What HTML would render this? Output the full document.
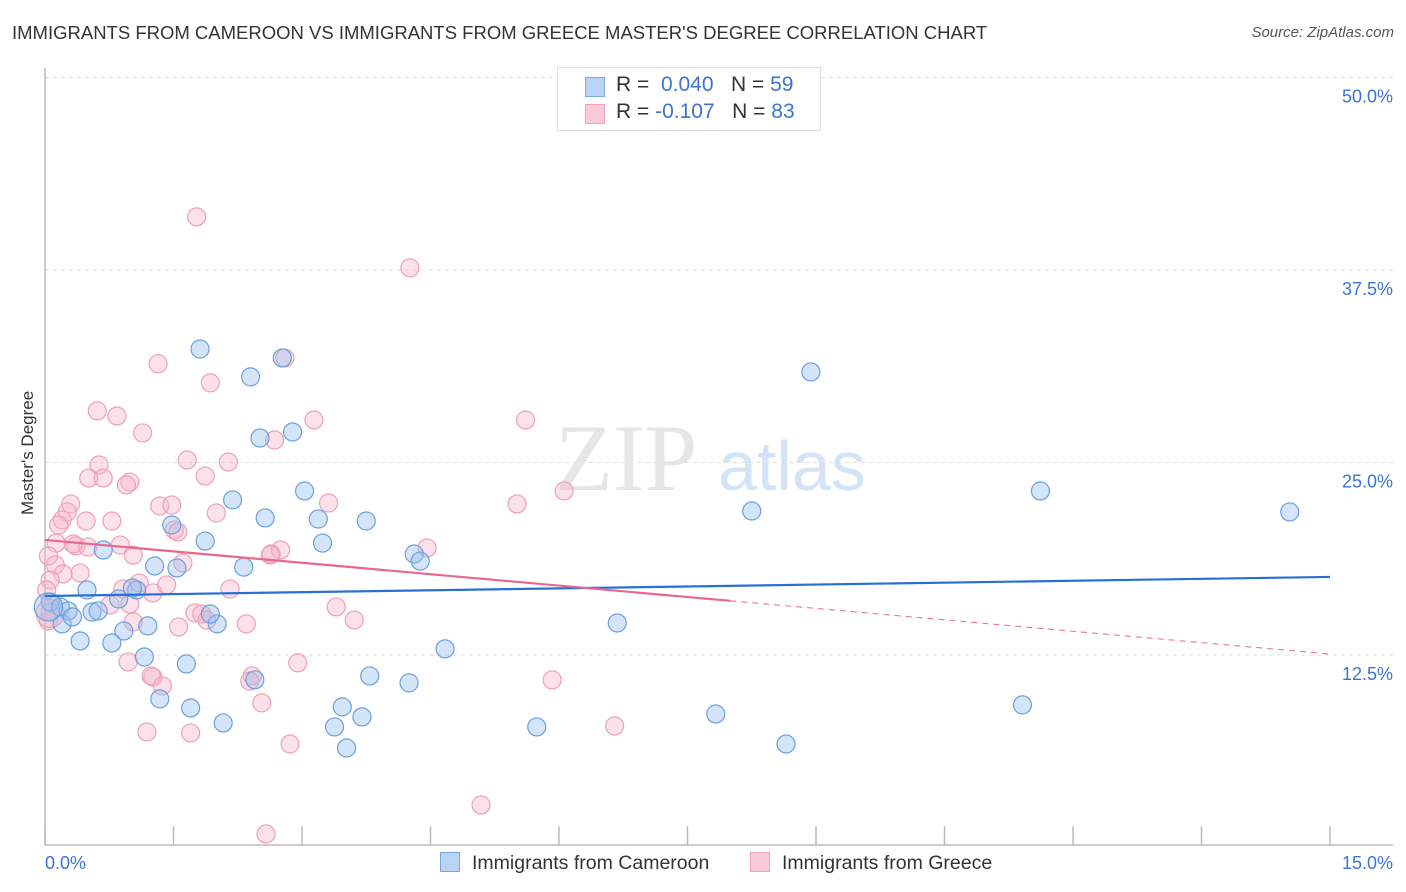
<!DOCTYPE html>
<html><head><meta charset="utf-8">
<style>
body{margin:0;background:#fff;font-family:"Liberation Sans",sans-serif;}
#wrap{position:relative;width:1406px;height:892px;overflow:hidden;}
.t{position:absolute;white-space:nowrap;}
</style></head>
<body>
<div id="wrap">
<div class="t" style="left:12px;top:22px;font-size:18.5px;color:#333;">IMMIGRANTS FROM CAMEROON VS IMMIGRANTS FROM GREECE MASTER'S DEGREE CORRELATION CHART</div>
<div class="t" style="right:12px;top:24px;font-size:15px;color:#555;font-style:italic;">Source: ZipAtlas.com</div>
<svg id="svg" width="1406" height="892" style="position:absolute;left:0;top:0"></svg>
</div>
<script>
const yTicks=[12.5,25,37.5,50];
const yTickLabels=["12.5%","25.0%","37.5%","50.0%"];
const xTicks=[0,1.5,3,4.5,6,7.5,9,10.5,12,13.5,15];
const blueX=[1.81,2.40,2.77,8.94,2.51,2.89,2.19,3.03,2.57,3.19,3.75,1.48,1.87,3.24,0.68,4.31,4.38,11.62,8.25,14.53,1.28,1.54,2.32,0.49,1.07,0.86,1.02,0.06,0.18,0.27,0.55,0.62,0.20,0.32,1.20,0.92,2.01,1.93,6.68,0.41,0.78,1.16,1.65,4.67,2.45,3.79,4.25,1.34,1.70,2.08,3.47,3.70,3.38,3.52,5.74,7.83,8.65,11.41,0.04];
const blueY=[32.37,30.56,31.79,30.88,26.59,26.98,22.57,23.15,21.40,21.33,21.20,20.94,19.90,19.77,19.32,19.06,18.60,23.15,21.85,21.79,18.28,18.15,18.21,16.72,16.72,16.14,16.85,15.94,15.62,15.36,15.29,15.36,14.52,14.97,14.39,14.06,14.52,15.16,14.58,13.41,13.28,12.37,11.92,12.90,10.89,11.14,10.69,9.65,9.06,8.09,9.13,8.48,7.83,6.46,7.83,8.67,6.72,9.26,15.62];
const pinkX=[1.77,4.26,1.32,1.93,2.80,0.61,0.84,1.14,3.14,5.61,1.66,2.14,0.63,0.51,0.99,0.68,0.95,1.87,0.30,0.26,0.20,0.16,0.48,0.78,1.34,1.48,2.00,3.31,5.51,6.06,0.13,0.04,0.36,0.33,0.50,0.88,1.51,1.55,2.68,1.03,0.12,0.41,0.21,0.06,0.02,1.61,2.64,2.75,4.46,0.91,1.10,1.26,1.42,2.16,0.76,0.99,1.03,1.75,1.83,1.89,2.35,3.40,3.61,1.56,0.97,1.26,1.24,1.37,2.42,2.39,2.53,2.95,5.92,1.19,1.70,2.86,6.65,5.09,2.58,0.04,0.06,2.63,0.06];
const pinkY=[40.95,37.64,31.41,30.17,31.79,28.35,28.02,26.92,27.76,27.76,25.16,25.03,24.84,23.99,23.73,23.99,23.54,24.12,22.31,21.79,21.27,20.94,21.20,21.20,22.18,22.24,21.72,22.37,22.31,23.15,19.77,18.93,19.58,19.71,19.51,19.64,20.62,20.49,26.46,18.99,18.35,17.83,17.76,17.37,16.72,18.47,19.06,19.32,19.45,16.79,17.18,16.53,17.05,16.79,15.75,15.81,14.65,15.23,15.16,14.77,14.52,15.62,14.77,14.32,12.05,11.07,11.14,10.49,11.14,10.81,9.39,11.99,10.88,7.50,7.44,6.72,7.89,2.76,0.88,14.71,15.29,19.0,15.2];
const blueTrend=[16.33,17.57];
const pinkTrend=[19.97,12.56];
const pinkSolidEnd=8.0;

const NS="http://www.w3.org/2000/svg";
const svg=document.getElementById('svg');
const X0=45,X1=1330,Y0=847.5,PY=192.5/12.5;
const sx=v=>X0+v/15*(X1-X0);
const sy=v=>Y0-v*PY;
function mk(tag,attrs,parent){const e=document.createElementNS(NS,tag);for(const k in attrs)e.setAttribute(k,attrs[k]);(parent||svg).appendChild(e);return e;}
yTicks.forEach((t,i)=>{
  const g=mk('line',{x1:X0,x2:1393,y1:sy(t),y2:sy(t),stroke:'#ddd','stroke-dasharray':'4,4'});
  
  
  const tx=mk('text',{x:1393,y:sy(t)+25,'text-anchor':'end','font-size':18,fill:'#3b73d6','font-family':'Liberation Sans'});
  tx.textContent=yTickLabels[i];
  
  
});
const ya=mk('line',{x1:X0,x2:X0,y1:68,y2:845,stroke:'#bbb','stroke-width':1.5});


const xa=mk('line',{x1:X0,x2:1393,y1:845,y2:845,stroke:'#bbb','stroke-width':1.5});


xTicks.forEach(t=>{
  const l=mk('line',{x1:sx(t),x2:sx(t),y1:826,y2:845,stroke:'#bbb','stroke-width':1.5});
  
  
});
const wm=mk('text',{x:555,y:490,'font-size':95,fill:'#e6e6e6','font-family':'Liberation Serif'});
wm.textContent='ZIP';


const wm2=mk('text',{x:718,y:490,'font-size':70,fill:'#d5e3f5','font-family':'Liberation Sans'});
wm2.textContent='atlas';


function pts(xs,ys,fill,stroke,name){
  xs.forEach((v,i)=>{
    const big=(i===xs.length-1);
    const c=mk('circle',{cx:sx(v),cy:sy(ys[i]),r:big?14:9,fill:fill,stroke:stroke,'stroke-width':1.2});
    
    
  });
}
pts(pinkX,pinkY,'rgba(248,180,200,0.4)','#eea0b8','greece-point');
pts(blueX,blueY,'rgba(150,190,240,0.4)','#6a9fe0','cameroon-point');
const bt=mk('line',{x1:sx(0),x2:sx(15),y1:sy(blueTrend[0]),y2:sy(blueTrend[1]),stroke:'#2a6fd6','stroke-width':2.2});


const pAt=v=>pinkTrend[0]+(pinkTrend[1]-pinkTrend[0])*v/15;
const pt=mk('line',{x1:sx(0),x2:sx(pinkSolidEnd),y1:sy(pinkTrend[0]),y2:sy(pAt(pinkSolidEnd)),stroke:'#e8678f','stroke-width':2.2});


const pd=mk('line',{x1:sx(pinkSolidEnd),x2:sx(15),y1:sy(pAt(pinkSolidEnd)),y2:sy(pinkTrend[1]),stroke:'#e8678f','stroke-width':1,'stroke-dasharray':'6,5'});


</script>
<div class="t" style="left:-32px;top:445px;font-size:17px;color:#333;transform:rotate(-90deg);width:120px;text-align:center;">Master's Degree</div>
<div class="t" style="left:45px;top:853px;font-size:18px;color:#3b73d6;">0.0%</div>
<div class="t" style="right:13px;top:853px;font-size:18px;color:#3b73d6;">15.0%</div>
<div style="position:absolute;left:557px;top:67px;width:262px;height:62px;border:1px solid #ddd;background:#fff;font-size:21px;">
  <div style="position:absolute;left:27px;top:9px;width:18px;height:18px;background:#b9d3f5;border:1px solid #7aa8e6;"></div>
  <div class="t" style="left:58px;top:5px;color:#333;">R = <span style="color:#3b73d6">&nbsp;0.040</span>&nbsp;&nbsp;&nbsp;N = <span style="color:#3b73d6">59</span></div>
  <div style="position:absolute;left:27px;top:36px;width:18px;height:18px;background:#fbc9d7;border:1px solid #f0a0b8;"></div>
  <div class="t" style="left:58px;top:32px;color:#333;">R = <span style="color:#3b73d6">-0.107</span>&nbsp;&nbsp;&nbsp;N = <span style="color:#3b73d6">83</span></div>
</div>
<div style="position:absolute;left:440px;top:852px;font-size:19.5px;color:#333;">
  <div style="position:absolute;left:0;top:0;white-space:nowrap;"><span style="display:inline-block;width:18px;height:18px;background:#b9d3f5;border:1px solid #7aa8e6;vertical-align:-3px;margin-right:12px;"></span>Immigrants from Cameroon</div>
  <div style="position:absolute;left:310px;top:0;white-space:nowrap;"><span style="display:inline-block;width:18px;height:18px;background:#fbc9d7;border:1px solid #f0a0b8;vertical-align:-3px;margin-right:12px;"></span>Immigrants from Greece</div>
</div>
</body></html>
